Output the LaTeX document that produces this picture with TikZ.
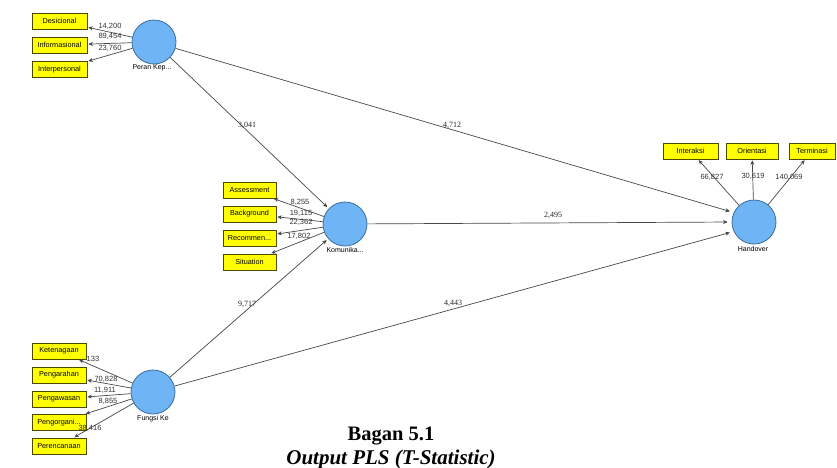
\documentclass[tikz,border=0pt]{standalone}
\usepackage{fontspec}
\setmainfont{Liberation Serif}
\setsansfont{Liberation Sans}
\usetikzlibrary{arrows.meta}
\definecolor{circfill}{HTML}{6FB4F5}
\definecolor{circdraw}{HTML}{3A6D9C}
\definecolor{boxfill}{HTML}{FFFF00}
\definecolor{boxdraw}{HTML}{4A4A00}
\definecolor{linecol}{HTML}{484848}
\tikzset{
  lv/.style={circle,fill=circfill,draw=circdraw,line width=0.8pt,minimum size=44pt,inner sep=0pt},
  ind/.style={rectangle,fill=boxfill,draw=boxdraw,line width=0.7pt,minimum height=16pt,inner sep=0pt,font=\sffamily\fontsize{7.3}{8}\selectfont},
  conn/.style={draw=linecol,line width=0.7pt,-{Stealth[length=4.5pt,width=4pt,fill=black]},shorten >=1pt},
  val/.style={font=\sffamily\fontsize{7.5}{8}\selectfont,text=black!80,inner sep=0pt},
  sval/.style={font=\fontsize{8}{9}\selectfont,text=black!85,inner sep=0pt},
  lvlab/.style={font=\sffamily\fontsize{7}{8}\selectfont,inner sep=0pt}
}
\begin{document}
\begin{tikzpicture}[x=1pt,y=-1pt]
\useasboundingbox[fill=white] (0,0) rectangle (837,467);
% latent variables
\node[lv] (P) at (154,42) {};
\node[lv] (K) at (345,224) {};
\node[lv] (F) at (153,392) {};
\node[lv] (H) at (754,222) {};
\node[lvlab] (Pl) at (152,68) {Peran Kep...};
\node[lvlab] (Kl) at (345,250) {Komunika...};
\node[lvlab] (Fl) at (153,419) {Fungsi Ke};
\node[lvlab] (Hl) at (753,249) {Handover};
% indicators Peran
\node[ind,minimum width=55pt] (p1) at (59.5,21) {Desicional};
\node[ind,minimum width=55pt] (p2) at (59.5,45) {Informasional};
\node[ind,minimum width=55pt] (p3) at (59.5,69.5) {Interpersonal};
% indicators Komunika
\node[ind,minimum width=53pt] (k1) at (249.5,190) {Assessment};
\node[ind,minimum width=53pt] (k2) at (249.5,214) {Background};
\node[ind,minimum width=53pt] (k3) at (249.5,238) {Recommen...};
\node[ind,minimum width=53pt] (k4) at (249.5,262) {Situation};
% indicators Fungsi
\node[ind,minimum width=54pt] (f1) at (59,351) {Ketenagaan};
\node[ind,minimum width=54pt] (f2) at (59,375) {Pengarahan};
\node[ind,minimum width=54pt] (f3) at (59,399) {Pengawasan};
\node[ind,minimum width=54pt] (f4) at (59,422.5) {Pengorgani...};
\node[ind,minimum width=54pt] (f5) at (59,446) {Perencanaan};
% indicators Handover
\node[ind,minimum width=55pt] (h1) at (690.5,151) {Interaksi};
\node[ind,minimum width=52pt] (h2) at (752,151) {Orientasi};
\node[ind,minimum width=46pt] (h3) at (812,151) {Terminasi};
% outer loadings
\foreach \t in {p1,p2,p3} \draw[conn] (P) -- (\t);
\foreach \t in {k1,k2,k3,k4} \draw[conn] (K) -- (\t);
\foreach \t in {f1,f2,f3,f4,f5} \draw[conn] (F) -- (\t);
\foreach \t in {h1,h2,h3} \draw[conn] (H) -- (\t);
% structural paths
\draw[conn,shorten >=2pt] (P) -- (K);
\draw[conn,shorten >=2pt] (F) -- (K);
\draw[conn,shorten >=4pt] (P) -- (H.155);
\draw[conn,shorten >=4pt] (K) -- (H.180);
\draw[conn,shorten >=4pt] (F) -- (H.205);
% loading values
\node[val] (v1) at (110,26) {14,200};
\node[val] (v2) at (110,36) {89,454};
\node[val] (v3) at (110,48) {23,760};
\node[val] (v4) at (300,202) {8,255};
\node[val] (v5) at (301,213) {19,115};
\node[val] (v6) at (301,222) {22,362};
\node[val] (v7) at (299,236) {17,802};
\node[val] (v8) at (93,359) {133};
\node[val] (v9) at (106,379) {70,828};
\node[val] (v10) at (105,390) {11,911};
\node[val] (v11) at (108,401) {8,855};
\node[val] (v12) at (90,428) {38,416};
\node[val] (v13) at (712,177) {66,827};
\node[val] (v14) at (753,176) {30,619};
\node[val] (v15) at (789,177) {140,069};
% path values
\node[sval] (s1) at (247,125) {3,041};
\node[sval] (s2) at (452,125) {4,712};
\node[sval] (s3) at (553,215) {2,495};
\node[sval] (s4) at (247,304) {9,717};
\node[sval] (s5) at (453,303) {4,443};
% caption
\node[font=\bfseries\fontsize{20.5}{21}\selectfont,inner sep=0pt] (c1) at (391,436) {Bagan 5.1};
\node[font=\bfseries\itshape\fontsize{21}{22}\selectfont,inner sep=0pt] (c2) at (391,459) {Output PLS (T-Statistic)};
\end{tikzpicture}
\end{document}
